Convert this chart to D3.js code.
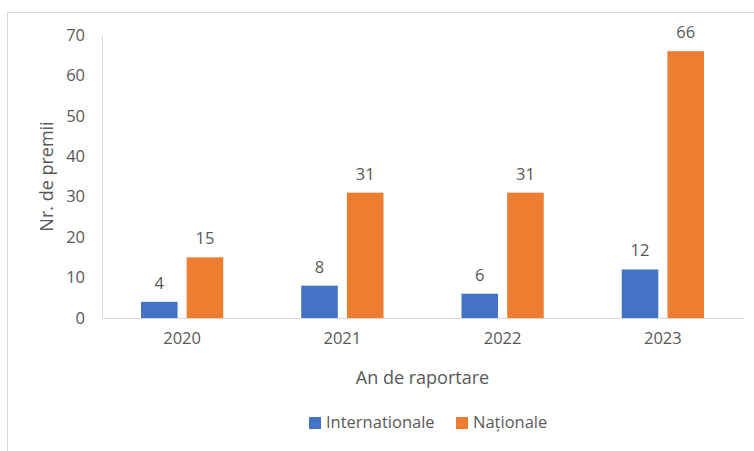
<!DOCTYPE html>
<html>
<head>
<meta charset="utf-8">
<script src="https://cdn.jsdelivr.net/npm/d3@7"></script>
<style>
  body { margin: 0; background: #fff; }
  text { font-family: "Open Sans", sans-serif; fill: #595959; }
</style>
</head>
<body>
<svg id="chart"></svg>
<script>
// data
var years = ["2020", "2021", "2022", "2023"];
var internationale = [4, 8, 6, 12];
var nationale = [15, 31, 31, 66];
var seriesNames = ["Internationale", "Naționale"];
var colors = ["#4472C4", "#ED7D31"];
var yTicks = [0, 10, 20, 30, 40, 50, 60, 70];

var W = 754, H = 451;
var margin = {top: 35, right: 11, bottom: 133, left: 102};
var width = W - margin.left - margin.right,
    height = H - margin.top - margin.bottom;

var svg = d3.select("#chart").attr("width", W).attr("height", H);

// chart frame (only top and left edge visible)
svg.append("path")
  .attr("d", "M7.5," + H + "V12.5H" + W)
  .attr("fill", "none")
  .attr("stroke", "#d9d9d9");

var g = svg.append("g")
  .attr("transform", "translate(" + margin.left + "," + margin.top + ")");

var x = d3.scaleBand().domain(years).range([0, width]);
var x1 = d3.scaleBand().domain(seriesNames).range([39, x.bandwidth() - 39]).paddingInner(0.2);
var y = d3.scaleLinear().domain([0, 70]).range([height, 0]);

var rows = years.map(function(yr, i) {
  return {year: yr, values: [internationale[i], nationale[i]]};
});

// y axis
var yAxis = g.append("g")
  .call(d3.axisLeft(y).tickValues(yTicks).tickSize(0).tickPadding(17));
yAxis.select(".domain").attr("stroke", "#d9d9d9");
yAxis.selectAll("text").style("font-size", "16.5px").attr("fill", "#595959");

// bars
var groups = g.selectAll(".yr")
  .data(rows)
  .enter().append("g")
  .attr("transform", function(d) { return "translate(" + x(d.year) + ",0)"; });

groups.selectAll("rect")
  .data(function(d) { return d.values.map(function(v, i) { return {k: seriesNames[i], v: v, c: colors[i]}; }); })
  .enter().append("rect")
  .attr("x", function(d) { return x1(d.k); })
  .attr("width", x1.bandwidth())
  .attr("y", function(d) { return y(d.v); })
  .attr("height", function(d) { return height - y(d.v); })
  .attr("fill", function(d) { return d.c; });

groups.selectAll(".lbl")
  .data(function(d) { return d.values.map(function(v, i) { return {k: seriesNames[i], v: v}; }); })
  .enter().append("text")
  .attr("class", "lbl")
  .attr("x", function(d) { return x1(d.k) + x1.bandwidth() / 2; })
  .attr("y", function(d) { return y(d.v) - 13; })
  .attr("text-anchor", "middle")
  .style("font-size", "16.5px")
  .text(function(d) { return d.v; });

// x axis
var xAxis = g.append("g")
  .attr("transform", "translate(0," + height + ")")
  .call(d3.axisBottom(x).tickSize(0).tickPadding(14));
xAxis.select(".domain").attr("stroke", "#d9d9d9");
xAxis.selectAll("text").style("font-size", "16.5px").attr("fill", "#595959");

// axis titles
svg.append("text")
  .attr("x", margin.left + width / 2)
  .attr("y", 384)
  .attr("text-anchor", "middle")
  .style("font-size", "18px")
  .text("An de raportare");

svg.append("text")
  .attr("transform", "translate(53," + (margin.top + height / 2) + ") rotate(-90)")
  .attr("text-anchor", "middle")
  .style("font-size", "18px")
  .text("Nr. de premii");

// legend
var legendX = [309, 456];
var legend = svg.selectAll(".leg")
  .data(seriesNames)
  .enter().append("g")
  .attr("transform", function(d, i) { return "translate(" + legendX[i] + ",417)"; });
legend.append("rect")
  .attr("width", 12).attr("height", 12)
  .attr("fill", function(d, i) { return colors[i]; });
legend.append("text")
  .attr("x", 17).attr("y", 11)
  .style("font-size", "16.5px")
  .text(function(d) { return d; });
</script>
</body>
</html>
